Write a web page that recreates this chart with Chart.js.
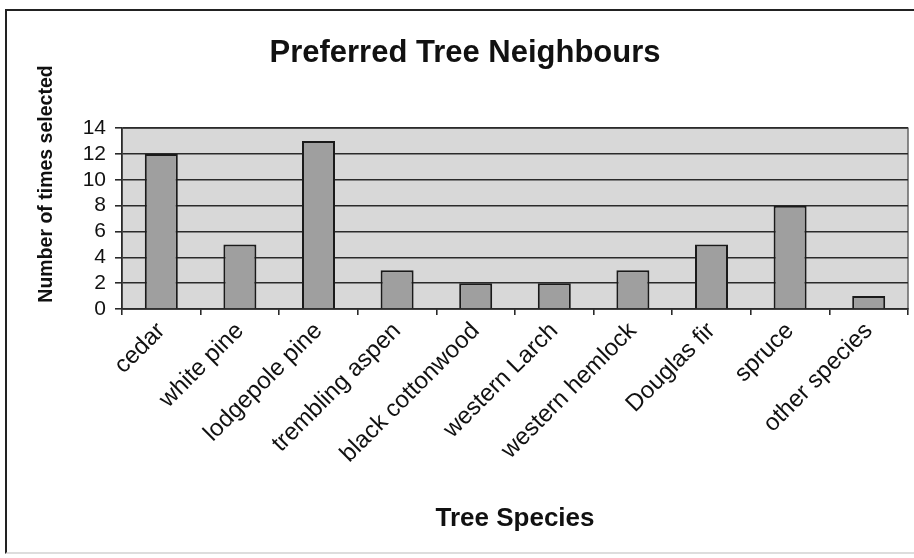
<!DOCTYPE html>
<html>
<head>
<meta charset="utf-8">
<script src="https://cdn.jsdelivr.net/npm/chart.js@4/dist/chart.umd.min.js"></script>
<style>
  html, body { margin: 0; padding: 0; background: #fff; }
  #wrap { position: relative; width: 914px; height: 558px; }
  #frame { position: absolute; left: 5px; top: 9px; width: 909px; height: 545px; border-left: 2px solid #222; border-top: 2px solid #222; border-bottom: 2px solid #ddd; box-sizing: border-box; }
  canvas { position: absolute; left: 0; top: 0; }
</style>
</head>
<body>
<div id="wrap">
  <div id="frame"></div>
  <canvas id="treeChart" width="914" height="558"></canvas>
</div>
<script>
const species = ["cedar", "white pine", "lodgepole pine", "trembling aspen", "black cottonwood",
  "western Larch", "western hemlock", "Douglas fir", "spruce", "other species"];
const timesSelected = [12, 5, 13, 3, 2, 2, 3, 5, 8, 1];
const yTicks = [0, 2, 4, 6, 8, 10, 12, 14];
const yTitle = "Number of times selected";

// grey plot area like the old spreadsheet chart
const plotBackground = {
  id: "plotBackground",
  beforeDraw(chart) {
    const a = chart.chartArea;
    const ctx = chart.ctx;
    ctx.save();
    ctx.fillStyle = "#d8d8d8";
    ctx.fillRect(a.left, a.top, a.right - a.left, a.bottom - a.top);
    ctx.strokeStyle = "#666";
    ctx.lineWidth = 1.5;
    ctx.strokeRect(a.left, a.top, a.right - a.left, a.bottom - a.top);
    ctx.restore();
  },
};

// the y title sits higher than the plot centre in the original, so draw it here
const sideTitle = {
  id: "sideTitle",
  afterDraw(chart) {
    const ctx = chart.ctx;
    ctx.save();
    ctx.translate(47, 184);
    ctx.rotate(-Math.PI / 2);
    ctx.font = "bold 19.5px 'Liberation Sans'";
    ctx.fillStyle = "#111";
    ctx.textAlign = "center";
    ctx.textBaseline = "middle";
    ctx.fillText(yTitle, 0, 0);
    ctx.restore();
  },
};

const ctx = document.getElementById("treeChart").getContext("2d");
new Chart(ctx, {
  type: "bar",
  data: {
    labels: species,
    datasets: [
      {
        label: yTitle,
        data: timesSelected,
        backgroundColor: "#9f9f9f",
        borderColor: "#1a1a1a",
        borderWidth: 2,
        barPercentage: 0.42,
        categoryPercentage: 1,
      },
    ],
  },
  options: {
    responsive: false,
    animation: false,
    layout: { padding: { left: 22, right: 6, top: 20, bottom: 0 } },
    scales: {
      y: {
        min: 0,
        max: 14,
        afterBuildTicks: (axis) => { axis.ticks = yTicks.map((v) => ({ value: v })); },
        afterFit: (axis) => { axis.width = 100; },
        ticks: { color: "#111", font: { family: "Liberation Sans", size: 21 }, padding: 9, autoSkip: false },
        grid: { color: "#2a2a2a", lineWidth: 1.6, tickLength: 7, tickColor: "#2a2a2a" },
        border: { color: "#2a2a2a", width: 1.6 },
      },
      x: {
        afterFit: (axis) => { axis.height = 558 - 309; },
        ticks: {
          color: "#111",
          font: { family: "Liberation Sans", size: 24 },
          minRotation: 45,
          maxRotation: 45,
          padding: 2,
        },
        grid: { offset: true, drawOnChartArea: false, tickLength: 6, color: "#2a2a2a", lineWidth: 1.6 },
        border: { color: "#2a2a2a", width: 1.6 },
        title: {
          display: true,
          text: "Tree Species",
          color: "#111",
          font: { family: "Liberation Sans", size: 26, weight: "bold" },
          padding: { top: 0, bottom: 24 },
        },
      },
    },
    plugins: {
      title: {
        display: true,
        text: "Preferred Tree Neighbours",
        color: "#111",
        font: { family: "Liberation Sans", size: 31, weight: "bold" },
        padding: { top: 15, bottom: 56 },
      },
      legend: { display: false },
      tooltip: { enabled: false },
    },
  },
  plugins: [plotBackground, sideTitle],
});
</script>
</body>
</html>
